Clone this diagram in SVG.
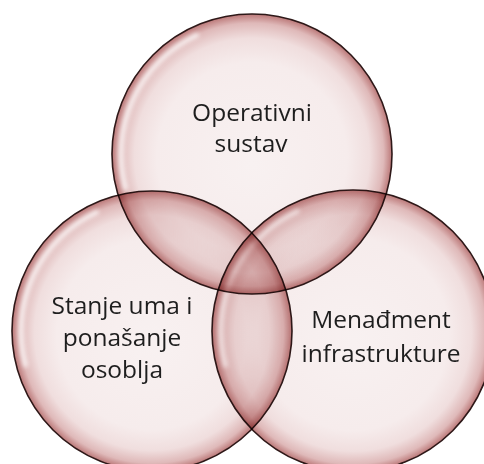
<svg xmlns="http://www.w3.org/2000/svg" width="484" height="464" viewBox="0 0 484 464">
  <defs>
    <radialGradient id="bubble" cx="50%" cy="50%" r="50%" fx="50%" fy="54%">
      <stop offset="0%" stop-color="#f8f1f1"/>
      <stop offset="68%" stop-color="#f6ecec"/>
      <stop offset="84%" stop-color="#f0dede"/>
      <stop offset="94%" stop-color="#dfb9b9"/>
      <stop offset="100%" stop-color="#bb7878"/>
    </radialGradient>
    <filter id="soft" x="-20%" y="-20%" width="140%" height="140%">
      <feGaussianBlur stdDeviation="2"/>
    </filter>
    <style>
      .node { mix-blend-mode: multiply; }
      .disc { fill: url(#bubble); stroke: #2e1818; stroke-width: 1.6; }
      .gloss { fill: none; stroke: #ffffff; stroke-width: 5; stroke-linecap: round; opacity: 0.75; filter: url(#soft); }
      .label { font-family: "Open Sans", "Noto Sans", "Liberation Sans", sans-serif; font-size: 24.5px; fill: #1e1e1e; text-anchor: middle; }
    </style>
  </defs>
  <rect x="0" y="0" width="484" height="464" fill="#ffffff"/>
  <g id="connectors"/>
  <g id="node-operativni" class="node">
    <circle class="disc" cx="252" cy="154" r="140"/>
    <path class="gloss" d="M 125.5 187.9 A 131 131 0 0 1 196.6 35.3"/>
    <text class="label" x="252" y="121">Operativni</text>
    <text class="label" x="251" y="152">sustav</text>
  </g>
  <g id="node-stanje" class="node">
    <circle class="disc" cx="152" cy="331" r="140"/>
    <path class="gloss" d="M 25.5 364.9 A 131 131 0 0 1 96.6 212.3"/>
    <text class="label" x="122" y="314">Stanje uma i</text>
    <text class="label" x="122" y="346">ponašanje</text>
    <text class="label" x="122" y="378">osoblja</text>
  </g>
  <g id="node-menadment" class="node">
    <circle class="disc" cx="353" cy="331" r="141"/>
    <path class="gloss" d="M 225.5 365.2 A 132 132 0 0 1 297.2 211.4"/>
    <text class="label" x="381" y="328">Menađment</text>
    <text class="label" x="381" y="362">infrastrukture</text>
  </g>
</svg>
